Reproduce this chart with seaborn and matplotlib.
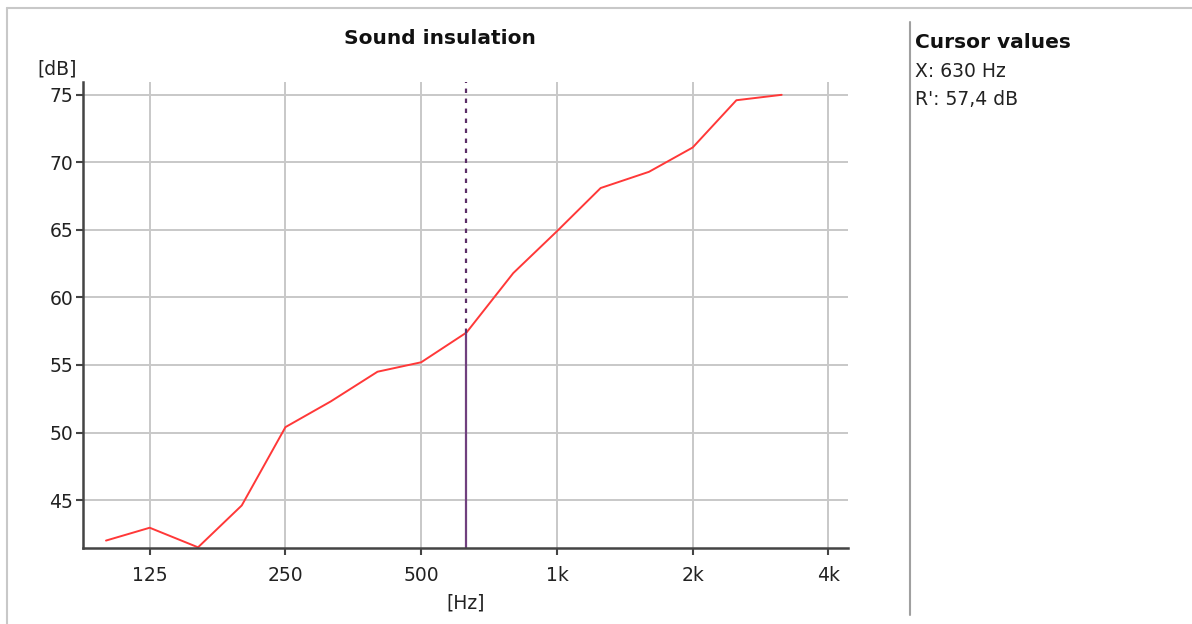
import pandas as pd
import numpy as np
import matplotlib.pyplot as plt
import seaborn as sns
from matplotlib.lines import Line2D

# third-octave band centre frequencies and measured R' values
freqs = [100, 125, 160, 200, 250, 315, 400, 500, 630, 800, 1000, 1250, 1600, 2000, 2500, 3150]
r_prime = [42.0, 42.95, 41.5, 44.6, 50.4, 52.3, 54.5, 55.2, 57.4, 61.8, 64.9, 68.1, 69.3, 71.1, 74.6, 75.0]

x_ticks = [125, 250, 500, 1000, 2000, 4000]
x_labels = ["125", "250", "500", "1k", "2k", "4k"]
y_ticks = [45, 50, 55, 60, 65, 70, 75]

cursor_freq = 630
cursor_val = 57.4

df = pd.DataFrame({"freq": freqs, "R'": r_prime})

sns.set_style("white")
plt.rcParams['font.family'] = ['DejaVu Sans']

fig = plt.figure(figsize=(11.92, 6.24), dpi=100)
ax = fig.add_axes([0.0696, 0.1218, 0.6418, 0.7468])

ax.set_xscale("log")
sns.lineplot(data=df, x="freq", y="R'", color="#ff3838", linewidth=1.4, ax=ax)

y0, y1 = 41.45, 75.95
# cursor: solid below the curve, dotted above
ax.axvline(cursor_freq, ymin=0, ymax=(cursor_val - y0) / (y1 - y0),
           color="#70407e", linewidth=1.6)
ax.axvline(cursor_freq, ymin=(cursor_val - y0) / (y1 - y0), ymax=1,
           color="#5a2d66", linewidth=1.6, linestyle=(0, (2, 2.5)))

ax.set_xlim(88.9, 4420)
ax.set_ylim(y0, y1)
ax.set_xticks(x_ticks)
ax.set_xticklabels(x_labels)
ax.xaxis.set_minor_locator(plt.NullLocator())
ax.set_yticks(y_ticks)

ax.grid(True, color="#c8c8c8", linewidth=1.4)
ax.set_axisbelow(True)
for s in ["top", "right"]:
    ax.spines[s].set_visible(False)
for s in ["left", "bottom"]:
    ax.spines[s].set_color("#444444")
    ax.spines[s].set_linewidth(1.8)
ax.tick_params(axis="both", direction="out", length=5, width=1.5, color="#444444",
               labelsize=13.5, labelcolor="#222222", left=True, bottom=True)
ax.tick_params(axis="x", pad=8)
ax.tick_params(axis="y", pad=2)

ax.set_xlabel("[Hz]", fontsize=13.5, color="#222222", labelpad=6)
ax.set_ylabel("")
ax.text(-0.034, 1.008, "[dB]", transform=ax.transAxes, ha="center", va="bottom",
        fontsize=13.5, color="#222222")
ax.text(0.467, 1.094, "Sound insulation", transform=ax.transAxes, ha="center", va="center",
        fontsize=14.5, fontweight="bold", color="#111111")

# right-hand panel with cursor values
fig.add_artist(Line2D([0.7634, 0.7634], [0.015, 0.965], color="#a0a0a0", linewidth=1.5))
fig.text(0.768, 0.932, "Cursor values", fontsize=14.5, fontweight="bold", color="#111111", va="center")
fig.text(0.768, 0.886, "X: %d Hz" % cursor_freq, fontsize=13.5, color="#222222", va="center")
fig.text(0.768, 0.841, "R': " + ("%.1f" % cursor_val).replace(".", ",") + " dB",
         fontsize=13.5, color="#222222", va="center")

# window frame
fig.add_artist(Line2D([0.006, 1.0], [0.987, 0.987], color="#c8c8c8", linewidth=1.5))
fig.add_artist(Line2D([0.006, 0.006], [0.0, 0.987], color="#c8c8c8", linewidth=1.5))

plt.savefig("out.png", dpi=100)
